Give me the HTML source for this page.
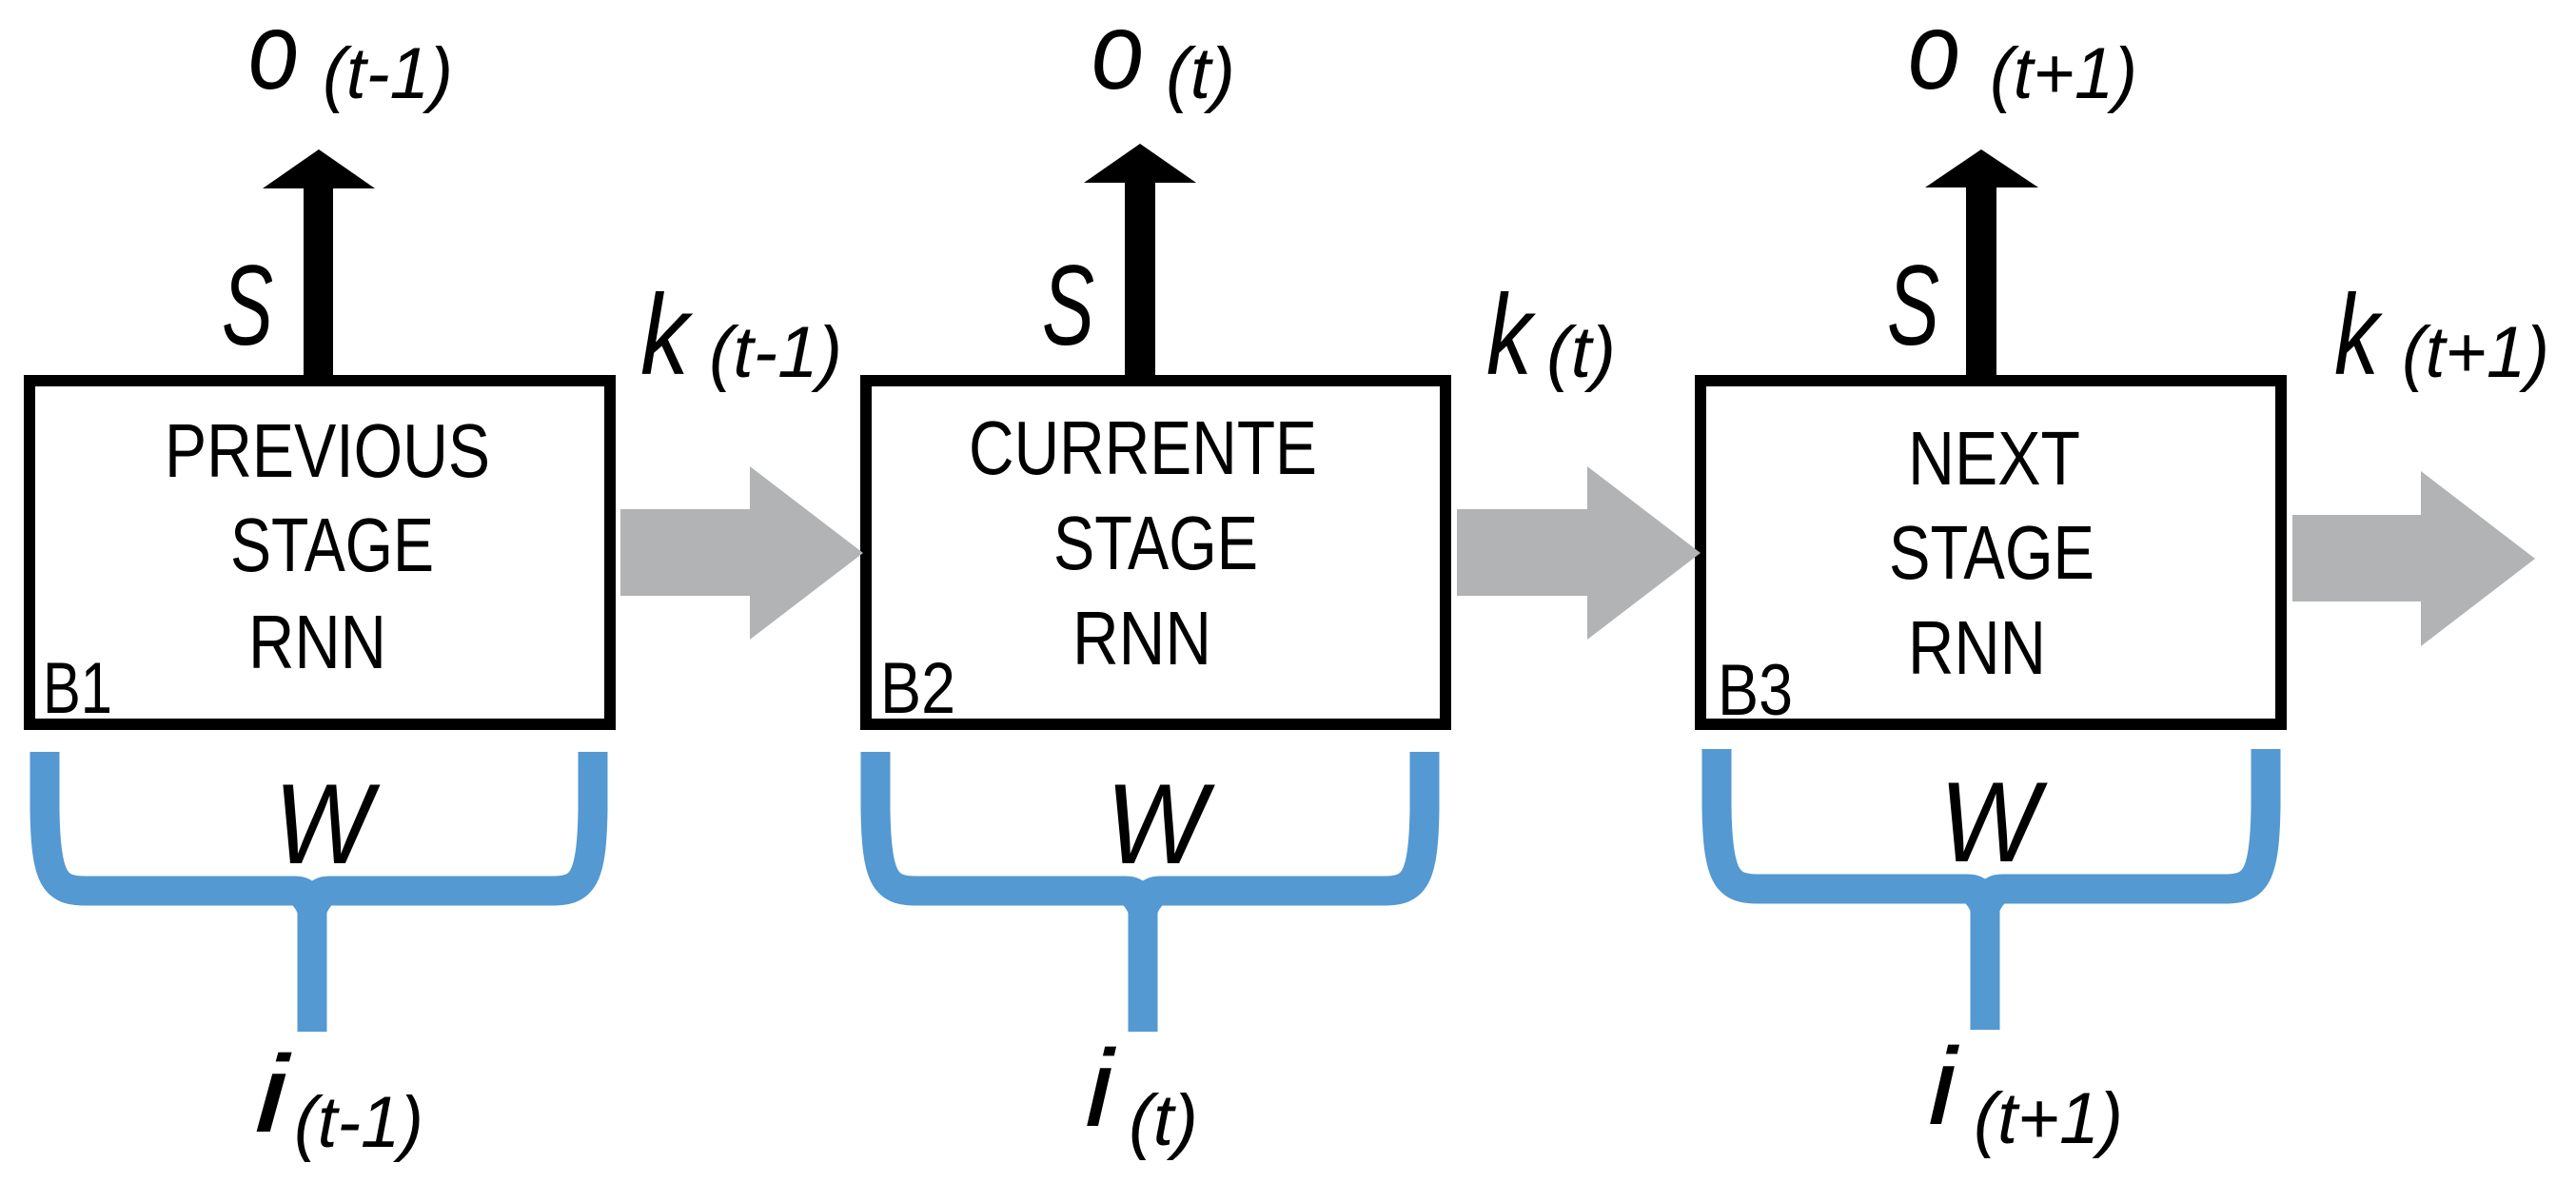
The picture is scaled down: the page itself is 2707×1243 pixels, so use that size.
<!DOCTYPE html>
<html><head><meta charset="utf-8"><style>
html,body{margin:0;padding:0;background:#fff;}
svg{display:block;}
text{font-family:"Liberation Sans",sans-serif;fill:#000;}
.it{font-style:italic;}
</style></head><body>
<svg width="2707" height="1243" viewBox="0 0 2707 1243" xmlns="http://www.w3.org/2000/svg">
<g fill="none" stroke="#000" stroke-width="12">
<rect x="31" y="400" width="610" height="361"/>
<rect x="910" y="400" width="609" height="361"/>
<rect x="1787" y="400" width="610" height="361"/>
</g>
<g fill="#000">
<rect x="319" y="196" width="31" height="200"/><polygon points="276,198 394,198 335,157"/>
<rect x="1182" y="190" width="32" height="206"/><polygon points="1139,192 1257,192 1198,151"/>
<rect x="2066" y="195" width="32" height="201"/><polygon points="2023,197 2142,197 2082,157"/>
</g>
<g fill="#b1b3b4">
<polygon points="652,535 788,535 788,490 907,581 788,672 788,626 652,626"/>
<polygon points="1531,535 1668,535 1668,490 1787,581 1668,672 1668,626 1531,626"/>
<polygon points="2409,541 2544,541 2544,495 2664,587 2544,679 2544,632 2409,632"/>
</g>
<g fill="none" stroke="#5499d2" stroke-width="31" stroke-linejoin="round">
<path d="M47,790 L47,850 C48,925 58,936 90,936 L310,936 C322,936 328,945 328,960 C328,1000 328,1040 328,1084"/>
<path d="M623,790 L623,850 C622,925 612,936 580,936 L346,936 C334,936 328,945 328,960"/>
<path d="M920,790 L920,850 C921,925 931,936 963,936 L1183,936 C1195,936 1201,945 1201,960 C1201,1000 1201,1040 1201,1084"/>
<path d="M1497,790 L1497,850 C1496,925 1486,936 1454,936 L1219,936 C1207,936 1201,945 1201,960"/>
<path d="M1804,787 L1804,847 C1805,922 1815,934 1847,934 L2068,934 C2080,934 2086,943 2086,958 C2086,998 2086,1040 2086,1082"/>
<path d="M2381,787 L2381,847 C2380,922 2370,934 2338,934 L2104,934 C2092,934 2086,943 2086,958"/>
</g>
<g fill="#5499d2">
<path d="M306,950 C318,960 320,990 320,1010 L336,1010 C336,990 338,960 350,950 Z"/>
<path d="M1179,950 C1191,960 1193,990 1193,1010 L1209,1010 C1209,990 1211,960 1223,950 Z"/>
<path d="M2064,948 C2076,958 2078,988 2078,1008 L2094,1008 C2094,988 2096,958 2108,948 Z"/>
</g>
<g font-size="80">
<text x="173" y="501" textLength="342" lengthAdjust="spacingAndGlyphs">PREVIOUS</text>
<text x="242" y="600" textLength="214" lengthAdjust="spacingAndGlyphs">STAGE</text>
<text x="261" y="702" textLength="145" lengthAdjust="spacingAndGlyphs">RNN</text>
<text x="1018" y="498" textLength="366" lengthAdjust="spacingAndGlyphs">CURRENTE</text>
<text x="1107" y="598" textLength="215" lengthAdjust="spacingAndGlyphs">STAGE</text>
<text x="1127" y="698" textLength="146" lengthAdjust="spacingAndGlyphs">RNN</text>
<text x="2005" y="509" textLength="181" lengthAdjust="spacingAndGlyphs">NEXT</text>
<text x="1985" y="608" textLength="216" lengthAdjust="spacingAndGlyphs">STAGE</text>
<text x="2005" y="708" textLength="145" lengthAdjust="spacingAndGlyphs">RNN</text>
</g>
<g font-size="76">
<text x="45" y="749" textLength="73" lengthAdjust="spacingAndGlyphs">B1</text>
<text x="925" y="749" textLength="79" lengthAdjust="spacingAndGlyphs">B2</text>
<text x="1805" y="751" textLength="79" lengthAdjust="spacingAndGlyphs">B3</text>
</g>
<g class="it">
<text x="261" y="93" font-size="115" textLength="53" lengthAdjust="spacingAndGlyphs">o</text>
<text x="339" y="103" font-size="76" textLength="137" lengthAdjust="spacingAndGlyphs">(t-1)</text>
<text x="1147" y="93" font-size="115" textLength="55" lengthAdjust="spacingAndGlyphs">o</text>
<text x="1225" y="103" font-size="76" textLength="73" lengthAdjust="spacingAndGlyphs">(t)</text>
<text x="2005" y="93" font-size="115" textLength="55" lengthAdjust="spacingAndGlyphs">o</text>
<text x="2091" y="103" font-size="76" textLength="155" lengthAdjust="spacingAndGlyphs">(t+1)</text>

<text x="233" y="362" font-size="120" textLength="54" lengthAdjust="spacingAndGlyphs">S</text>
<text x="1095" y="362" font-size="120" textLength="55" lengthAdjust="spacingAndGlyphs">S</text>
<text x="1983" y="362" font-size="120" textLength="55" lengthAdjust="spacingAndGlyphs">S</text>

<text x="673" y="393" font-size="120" textLength="51" lengthAdjust="spacingAndGlyphs">k</text>
<text x="745" y="396" font-size="76" textLength="140" lengthAdjust="spacingAndGlyphs">(t-1)</text>
<text x="1562" y="393" font-size="120" textLength="48" lengthAdjust="spacingAndGlyphs">k</text>
<text x="1625" y="396" font-size="76" textLength="73" lengthAdjust="spacingAndGlyphs">(t)</text>
<text x="2453" y="393" font-size="120" textLength="47" lengthAdjust="spacingAndGlyphs">k</text>
<text x="2524" y="396" font-size="76" textLength="155" lengthAdjust="spacingAndGlyphs">(t+1)</text>

<text x="288" y="907" font-size="120" textLength="103" lengthAdjust="spacingAndGlyphs">W</text>
<text x="1162" y="907" font-size="120" textLength="106" lengthAdjust="spacingAndGlyphs">W</text>
<text x="2038" y="905" font-size="120" textLength="105" lengthAdjust="spacingAndGlyphs">W</text>

<text x="267" y="1189" font-size="115" textLength="36" lengthAdjust="spacingAndGlyphs">i</text>
<text x="309" y="1205" font-size="76" textLength="136" lengthAdjust="spacingAndGlyphs">(t-1)</text>
<text x="1140" y="1183" font-size="115" textLength="30" lengthAdjust="spacingAndGlyphs">i</text>
<text x="1186" y="1203" font-size="76" textLength="73" lengthAdjust="spacingAndGlyphs">(t)</text>
<text x="2026" y="1181" font-size="115" textLength="30" lengthAdjust="spacingAndGlyphs">i</text>
<text x="2074" y="1201" font-size="76" textLength="157" lengthAdjust="spacingAndGlyphs">(t+1)</text>
</g>
</svg>
</body></html>
